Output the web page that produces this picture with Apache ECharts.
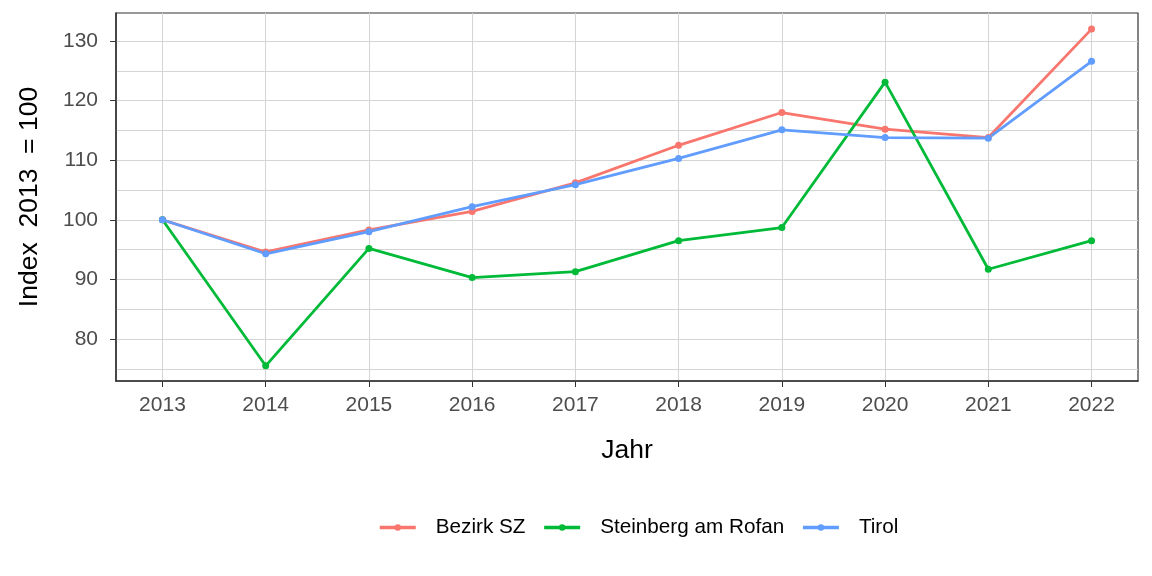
<!DOCTYPE html>
<html>
<head>
<meta charset="utf-8">
<script src="https://cdn.jsdelivr.net/npm/echarts@6/dist/echarts.min.js"></script>
<style>
  html, body { margin: 0; padding: 0; background: #fff; }
  #chart { width: 1152px; height: 576px; }
</style>
</head>
<body>
<div id="chart"></div>
<script>
// Jahre und Indexwerte (2013 = 100)
var jahre = [2013, 2014, 2015, 2016, 2017, 2018, 2019, 2020, 2021, 2022];
var bezirkSZ = [100, 94.6, 98.3, 101.4, 106.2, 112.5, 118.0, 115.2, 113.8, 132.0];
var steinberg = [100, 75.5, 95.2, 90.3, 91.3, 96.5, 98.7, 123.1, 91.7, 96.5];
var tirol = [100, 94.3, 98.0, 102.2, 105.9, 110.3, 115.1, 113.8, 113.7, 126.6];
var reihenNamen = ['Bezirk SZ', 'Steinberg am Rofan', 'Tirol'];
var farben = ['#F8766D', '#00BA38', '#619CFF'];
// Achsenbeschriftung y (Haupt- und Nebengitter)
var yTicks = [80, 90, 100, 110, 120, 130];
var yMinorTicks = [75, 85, 95, 105, 115, 125];

var font = 'Liberation Sans, Arial, sans-serif';

function paare(werte) {
  return jahre.map(function (j, i) { return [j, werte[i]]; });
}

function reihe(name, werte, farbe) {
  return {
    name: name,
    type: 'line',
    data: paare(werte),
    symbol: 'circle',
    symbolSize: 7,
    lineStyle: { width: 2.8, color: farbe },
    itemStyle: { color: farbe },
    emphasis: { disabled: true },
    animation: false
  };
}

var chart = echarts.init(document.getElementById('chart'));
var option = {
  backgroundColor: '#fff',
  grid: {
    left: 116, right: 14, top: 13, bottom: 195,
    show: true, borderColor: '#333', borderWidth: 1.2, backgroundColor: 'transparent'
  },
  legend: {
    top: 517,
    left: 378,
    padding: 0,
    itemWidth: 36,
    itemHeight: 8,
    itemGap: 17,
    lineStyle: { width: 3.5 },
    textStyle: { fontFamily: font, fontSize: 20.7, color: '#000', padding: [0, 0, 0, 15] },
    data: reihenNamen
  },
  xAxis: {
    type: 'value',
    min: 2012.55,
    max: 2022.45,
    name: 'Jahr',
    nameLocation: 'middle',
    nameGap: 56,
    nameTextStyle: { fontFamily: font, fontSize: 26.5, color: '#000' },
    axisLine: { show: true, lineStyle: { color: '#333', width: 1.5 } },
    axisTick: { show: true, length: 6, customValues: jahre, lineStyle: { color: '#333' } },
    axisLabel: {
      fontFamily: font, fontSize: 21, color: '#4d4d4d', margin: 14,
      customValues: jahre,
      formatter: function (v) { return String(v); }
    },
    splitLine: { show: true, lineStyle: { color: '#d4d4d4', width: 1 } }
  },
  yAxis: [{
    type: 'value',
    min: 72.95,
    max: 134.7,
    name: 'Index  2013  = 100',
    nameLocation: 'middle',
    nameGap: 73,
    nameTextStyle: { fontFamily: font, fontSize: 26.5, color: '#000' },
    axisLine: { show: true, lineStyle: { color: '#333', width: 1.5 } },
    axisTick: { show: true, length: 6, customValues: yTicks, lineStyle: { color: '#333' } },
    axisLabel: {
      fontFamily: font, fontSize: 21, color: '#4d4d4d', margin: 18,
      customValues: yTicks
    },
    splitLine: { show: true, lineStyle: { color: '#d4d4d4', width: 1 } }
  }, {
    type: 'value',
    min: 72.95,
    max: 134.7,
    position: 'left',
    axisLine: { show: false },
    axisTick: { show: false, customValues: yMinorTicks },
    axisLabel: { show: false, customValues: yMinorTicks },
    splitLine: { show: true, lineStyle: { color: '#d4d4d4', width: 1 } }
  }],
  series: [
    reihe(reihenNamen[0], bezirkSZ, farben[0]),
    reihe(reihenNamen[1], steinberg, farben[1]),
    reihe(reihenNamen[2], tirol, farben[2])
  ]
};
chart.setOption(option);
</script>
</body>
</html>
